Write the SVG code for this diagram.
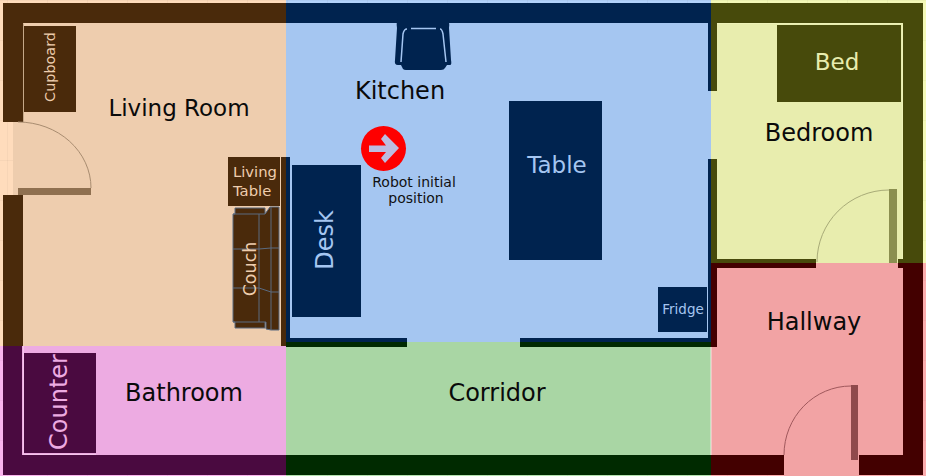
<svg xmlns="http://www.w3.org/2000/svg" width="926" height="476" viewBox="0 0 926 476">
<style>
text{font-family:"DejaVu Sans","Liberation Sans",sans-serif}
.room{font-size:24px;fill:#0a0a0a;text-anchor:middle}
.arc{fill:none;stroke-width:1}
.lbl{text-anchor:middle}
</style>
<defs>
<pattern id="grid" width="40" height="40" patternUnits="userSpaceOnUse" x="7" y="0"><path d="M0 0V40M0 0H40" fill="none" stroke="#000" stroke-opacity=".06"/></pattern>
</defs>
<!-- room fills -->
<rect x="0" y="0" width="286" height="347" fill="#ffdcbc"/>
<rect x="286" y="0" width="425" height="342" fill="#b2d2fb"/>
<rect x="711" y="0" width="215" height="263" fill="#f4f9b8"/>
<rect x="711" y="263" width="215" height="213" fill="#fcadae"/>
<rect x="286" y="342" width="425" height="134" fill="#b4e2af"/>
<rect x="0" y="346" width="286" height="130" fill="#fab5ee"/>
<rect width="926" height="476" fill="url(#grid)"/>
<rect x="13" y="23" width="273" height="323" fill="#eecdae"/>
<rect x="286" y="23" width="425" height="319" fill="#a5c6f1"/>
<rect x="711" y="23" width="192" height="240" fill="#e8edae"/>
<rect x="711" y="263" width="192" height="205" fill="#f2a3a4"/>
<rect x="286" y="342" width="425" height="113" fill="#a9d6a4"/>
<rect x="3" y="346" width="283" height="109" fill="#edabe2"/>
<rect x="784" y="455" width="75" height="21" fill="#f2a3a4"/>
<!-- walls -->
<g id="walls">
<g fill="#4a2a0b">
<path d="M3 3H286V23H23V122H3Z"/>
<rect x="3" y="195" width="20" height="151"/>
<rect x="281" y="157" width="5" height="189"/>
</g>
<g fill="#00234f">
<rect x="286" y="3" width="425" height="20"/>
<rect x="286" y="157" width="4" height="185"/>
<rect x="286" y="338" width="121" height="4"/>
<rect x="520" y="338" width="191" height="4"/>
<rect x="708" y="23" width="3" height="68"/>
<rect x="708" y="159" width="3" height="183"/>
</g>
<g fill="#474a0b">
<path d="M711 3H923V263H898V259H903V23H717V91H711Z"/>
<path d="M711 159H717V259H816V263H711Z"/>
</g>
<g fill="#430000">
<path d="M711 263H816V268H717V347H711Z"/>
<path d="M898 263H923V475H859V455H903V268H898Z"/>
<rect x="711" y="455" width="73" height="20"/>
</g>
<g fill="#002a00">
<rect x="286" y="342" width="121" height="5"/>
<rect x="520" y="342" width="191" height="5"/>
<rect x="286" y="455" width="425" height="20"/>
</g>
<path fill="#4a0a40" d="M3 346H22V455H286V475H3Z"/>
<path d="M711 347V455" stroke="#fff" stroke-opacity=".7" fill="none"/>
<path d="M23.500 346V454.500H96" stroke="#f5c5ec" fill="none"/>
<path d="M23.500 23.500V122" stroke="#c5a888" fill="none"/>
<path d="M717 23.500H902.500V259" stroke="#f4f8c0" stroke-opacity=".5" fill="none"/>
</g>
<!-- doors -->
<g id="doors">
<rect x="18" y="188" width="73" height="7" fill="#8f7050"/>
<path class="arc" stroke="#a88c70" d="M18 122A73 66 0 0 1 91 188"/>
<rect x="889" y="189" width="8" height="74" fill="#8b8f50"/>
<path class="arc" stroke="#a8ab78" d="M889 190A72 72 0 0 0 817 262"/>
<rect x="851" y="385" width="7" height="75" fill="#8f4a4c"/>
<path class="arc" stroke="#a0585c" d="M851 386A67 69 0 0 0 784 455"/>
</g>
<g id="cupboard"><rect x="24" y="26" width="52" height="86" fill="#4a2a0b"/>
<text class="lbl" transform="translate(55 67) rotate(-90)" font-size="14.400" fill="#eecdae">Cupboard</text></g>
<g id="living-room"><text class="room" x="179" y="116" style="font-size:23px">Living Room</text></g>
<g id="living-table"><rect x="228" y="157" width="52" height="49" fill="#4a2a0b"/>
<text x="233" y="177" font-size="14.800" fill="#eecdae">Living</text>
<text x="233" y="196" font-size="14.800" fill="#eecdae">Table</text></g>
<g id="couch" fill="#4a2a0b" stroke="#5a6a80" stroke-width="1">
<path d="M235 208H265V214L270 207H279V330L271 330L266 329V322H265V328H235V322H233V214H235Z"/>
<path d="M233 214H259V322H233M259 214L265 214M271 207V330M233 249H259L271 248H279M233 288H259L271 292H279M259 322H265" fill="none"/>
<text class="lbl" transform="translate(256 269) rotate(-90)" font-size="17.500" fill="#eecdae" stroke="none">Couch</text></g>
<g id="kitchen"><text class="room" x="400" y="99">Kitchen</text></g>
<g id="chair">
<path fill="#00234f" d="M398 19Q396 21 397 28L395 60Q394 65 398 65H401L403 69Q404 70 406 70H441Q444 70 445 68L447 65H450Q452 65 451 60L449 28Q450 21 447 19Z"/>
<path fill="none" stroke="#a5c6f1" stroke-width="1.500" d="M411 28.500H436M401 62L403 34Q404 29 407 29M446 62L443 34Q442 29 440 29"/>
</g>
<g id="robot"><circle cx="383.500" cy="148.500" r="22.500" fill="#fe0000"/>
<path d="M369 145.500H386L381 139L385 134L399 148L385 163L381 158L386 152H369Z" fill="#bcbce0"/>
<text class="lbl" font-size="14" fill="#111" x="414" y="187">Robot initial</text>
<text class="lbl" font-size="14" fill="#111" x="416" y="203">position</text></g>
<g id="desk"><rect x="292" y="165" width="69" height="152" fill="#00234f"/>
<text class="lbl" transform="translate(333 240) rotate(-90)" font-size="24" fill="#a5c6f1">Desk</text></g>
<g id="table"><rect x="509" y="101" width="93" height="159" fill="#00234f"/>
<text class="lbl" x="557" y="173" font-size="23" fill="#a5c6f1">Table</text></g>
<g id="fridge"><rect x="658" y="287" width="49" height="45" fill="#00234f"/>
<text class="lbl" x="683" y="314" font-size="13.500" fill="#a5c6f1">Fridge</text></g>
<g id="bed"><rect x="777" y="25" width="124" height="77" fill="#474a0b"/>
<text class="lbl" x="837" y="70" font-size="23" fill="#e8edae">Bed</text></g>
<g id="bedroom"><text class="room" x="819" y="141">Bedroom</text></g>
<g id="hallway"><text class="room" x="814" y="330">Hallway</text></g>
<g id="corridor"><text class="room" x="497" y="401">Corridor</text></g>
<g id="bathroom"><text class="room" x="184" y="401">Bathroom</text></g>
<g id="counter"><rect x="24" y="353" width="72" height="100" fill="#4a0a40"/>
<text class="lbl" transform="translate(67 402) rotate(-90)" font-size="24" fill="#edabe2">Counter</text></g>
</svg>
